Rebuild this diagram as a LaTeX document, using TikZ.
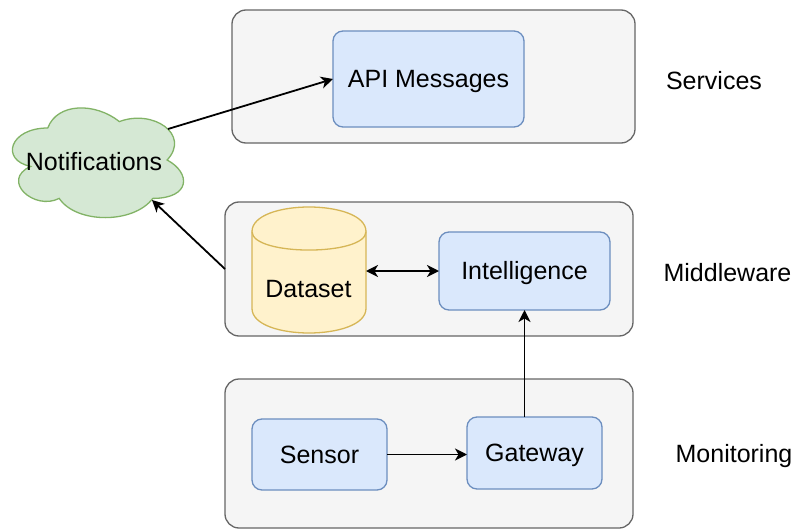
\documentclass[tikz,border=0pt]{standalone}
\usepackage{fontspec}
\setmainfont{Liberation Sans}
\usetikzlibrary{arrows.meta}
\definecolor{contfill}{HTML}{F5F5F5}
\definecolor{contline}{HTML}{666666}
\definecolor{bluefill}{HTML}{DAE8FC}
\definecolor{blueline}{HTML}{6C8EBF}
\definecolor{yelfill}{HTML}{FFF2CC}
\definecolor{yelline}{HTML}{D6B656}
\definecolor{grnfill}{HTML}{D5E8D4}
\definecolor{grnline}{HTML}{82B366}
\tikzset{
  every node/.style={font=\fontsize{25}{29}\selectfont, inner sep=0pt, outer sep=0pt},
  container/.style={draw=contline, fill=contfill, line width=1.3pt, rounded corners=14pt},
  bluebox/.style={draw=blueline, fill=bluefill, line width=1.3pt, rounded corners=10pt, text height=17.9pt, text depth=0pt},
  lbl/.style={anchor=base},
  tip/.style={},
  conn/.style={line width=1.8pt, -{Stealth[length=12pt,width=12pt,inset=3.5pt]}},
  biconn/.style={line width=1.8pt, {Stealth[length=12pt,width=12pt,inset=3.5pt]}-{Stealth[length=12pt,width=12pt,inset=3.5pt]}}
}
\begin{document}
\begin{tikzpicture}[x=1pt,y=-1pt]
\useasboundingbox (0,0) rectangle (796,530);
% containers
\node[container, minimum width=403pt, minimum height=133pt] (svc) at (433.5,76.5) {};
\node[container, minimum width=408pt, minimum height=134pt] (mw) at (429,269) {};
\node[container, minimum width=408pt, minimum height=149pt] (mon) at (429,453.5) {};
% boxes
\node[bluebox, minimum width=191pt, minimum height=96pt] (api) at (428.5,79) {API Messages};
\node[bluebox, minimum width=171pt, minimum height=78pt] (intel) at (524.5,271) {Intelligence};
\node[bluebox, minimum width=135pt, minimum height=71pt] (sensor) at (319.5,454.5) {Sensor};
\node[bluebox, minimum width=135pt, minimum height=72pt] (gw) at (534.5,453) {Gateway};
% dataset cylinder
\draw[draw=yelline, fill=yelfill, line width=1.3pt]
  (252,231.6) .. controls (252,198.8) and (366,198.8) .. (366,231.6)
  -- (366,308.4) .. controls (366,341.2) and (252,341.2) .. (252,308.4) -- cycle;
\draw[draw=yelline, line width=1.3pt]
  (252,231.6) .. controls (252,256.2) and (366,256.2) .. (366,231.6);
\node[minimum width=114pt, minimum height=126pt] (ds) at (309,270) {};
\node[lbl] (dstext) at (308.5,297) {Dataset};
% cloud
\draw[draw=grnline, fill=grnfill, line width=1.3pt]
  (47.75,128) .. controls (9.55,128) and (0,160) .. (30.56,166.4)
  .. controls (0,180.48) and (34.38,211.2) .. (59.21,198.4)
  .. controls (76.4,224) and (133.7,224) .. (152.8,198.4)
  .. controls (191,198.4) and (191,172.8) .. (167.125,160)
  .. controls (191,134.4) and (152.8,108.8) .. (119.375,121.6)
  .. controls (95.5,102.4) and (57.3,102.4) .. (47.75,128) -- cycle;
\node[lbl] (notif) at (94,170) {Notifications};
\coordinate (cloudout) at (168,129);
\coordinate (cloudin) at (152,200);
% side labels
\node[lbl] (lsvc) at (714,89) {Services};
\node[lbl] (lmw) at (727.5,281) {Middleware};
\node[lbl] (lmon) at (734,462) {Monitoring};
% connectors
\draw[conn] (cloudout) -- (api.west);
\draw[conn] (mw.west) -- (cloudin);
\draw[biconn] (ds.east |- intel.west) -- (intel.west);
\draw[conn] (sensor.east) -- (sensor.east -| gw.west);
\draw[conn] (gw.north -| intel.south) -- (intel.south);
\end{tikzpicture}
\end{document}
